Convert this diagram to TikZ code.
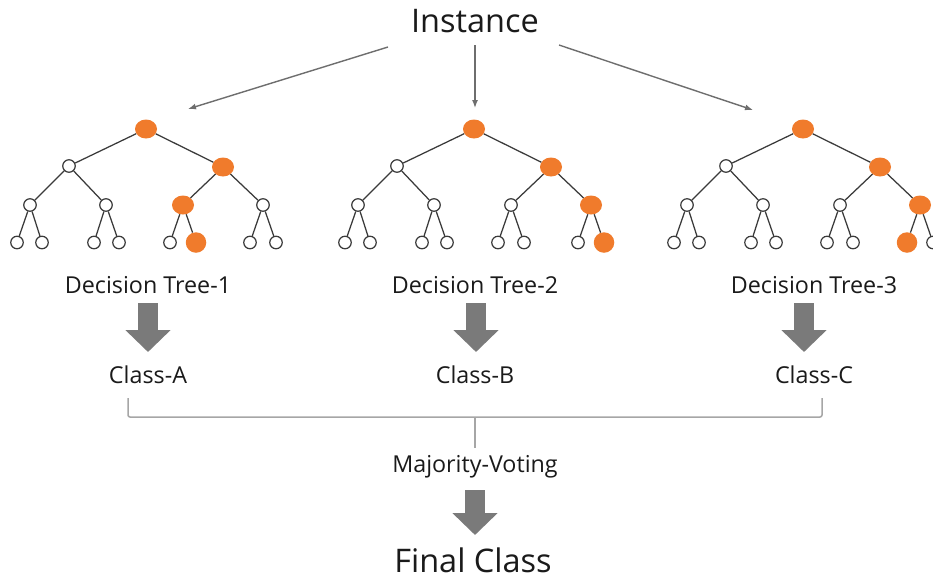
\documentclass[tikz,border=0pt]{standalone}
\usepackage{fontspec}
\setmainfont{Open Sans}
\usetikzlibrary{shapes.geometric,arrows.meta}
\definecolor{orng}{HTML}{F07B2C}
\definecolor{edgec}{HTML}{3A3A3A}
\definecolor{blk}{HTML}{7A7A7A}
\definecolor{thin}{HTML}{6E6E6E}
\definecolor{brk}{HTML}{A6A6A6}
\definecolor{txt}{HTML}{1A1A1A}
\tikzset{
  wn/.style={circle, draw=edgec, line width=1.2pt, fill=white, minimum size=12.5pt, inner sep=0pt},
  on/.style={ellipse, fill=orng, minimum width=22pt, minimum height=19pt, inner sep=0pt},
  onleaf/.style={circle, fill=orng, minimum size=20.5pt, inner sep=0pt},
  treeedge/.style={draw=edgec, line width=1.25pt},
  lbl/.style={text=txt, anchor=base, inner sep=0pt, font=\fontsize{23.3}{27}\selectfont},
  biglbl/.style={text=txt, anchor=base, inner sep=0pt, font=\fontsize{32.5}{38}\selectfont},
  blockarrow/.style={draw=blk, line width=20pt, -{Triangle[length=22pt,width=44pt]}},
  thinarrow/.style={draw=thin, line width=1.4pt, -{Latex[length=8pt,width=6pt]}},
  bracket/.style={draw=brk, line width=1.5pt, rounded corners=2pt},
}
\newcommand\mytree[4]{%
  \node[on] (#1a) at (#2,129) {};
  \node[wn] (#1b1) at ({#2-77},166) {};
  \node[on] (#1b2) at ({#2+77},167) {};
  \draw[treeedge] (#1a) -- (#1b1);
  \draw[treeedge] (#1a) -- (#1b2);
  \foreach \i/\dx/\p in {1/-116/1,2/-40/1,3/37/2,4/117/2} {
    \ifnum\i=#3 \tikzset{cur/.style={on}}\else\tikzset{cur/.style={wn}}\fi
    \node[cur] (#1c\i) at ({#2+\dx},205) {};
    \draw[treeedge] (#1b\p) -- (#1c\i);
  }
  \foreach \j/\dx/\p in {1/-129/1,2/-104/1,3/-52/2,4/-27/2,5/24/3,6/50/3,7/104/4,8/130/4} {
    \ifnum\j=#4 \tikzset{cur/.style={onleaf}}\else\tikzset{cur/.style={wn}}\fi
    \node[cur] (#1d\j) at ({#2+\dx},242.5) {};
    \draw[treeedge] (#1c\p) -- (#1d\j);
  }
}
\begin{document}
\begin{tikzpicture}[x=1pt,y=-1pt]
\useasboundingbox[fill=white] (0,0) rectangle (933,579);

% top
\node[biglbl] (inst) at (475,32) {Instance};
\coordinate (s1) at (388,47);
\coordinate (s2) at (475,45);
\coordinate (s3) at (559,45);
\coordinate (e1) at (188,109);
\coordinate (e2) at (475,108);
\coordinate (e3) at (753,110);
\draw[thinarrow] (s1) -- (e1);
\draw[thinarrow] (s2) -- (e2);
\draw[thinarrow] (s3) -- (e3);

% trees
\mytree{p}{146}{3}{6}
\mytree{q}{474}{4}{8}
\mytree{r}{803}{4}{7}

% labels
\node[lbl] (dt1) at (148,293) {Decision Tree-1};
\node[lbl] (dt2) at (475,293) {Decision Tree-2};
\node[lbl] (dt3) at (814,293) {Decision Tree-3};

\coordinate (a1s) at (148,303);
\coordinate (a1e) at (148,352);
\coordinate (a2s) at (476,303);
\coordinate (a2e) at (476,352);
\coordinate (a3s) at (804,303);
\coordinate (a3e) at (804,352);
\draw[blockarrow] (a1s) -- (a1e);
\draw[blockarrow] (a2s) -- (a2e);
\draw[blockarrow] (a3s) -- (a3e);

\node[lbl] (ca) at (148,383) {Class-A};
\node[lbl] (cb) at (475,383) {Class-B};
\node[lbl] (cc) at (814,383) {Class-C};

% bracket
\coordinate (bl) at (128,398);
\coordinate (br) at (822,398);
\coordinate (bm) at (475,417);
\coordinate (bd) at (475,448);
\draw[bracket] (bl) -- (128,417) -- (822,417) -- (br);
\draw[bracket] (bm) -- (bd);

\node[lbl] (mv) at (475,472) {Majority-Voting};
\coordinate (a4s) at (475,490);
\coordinate (a4e) at (475,535);
\draw[blockarrow] (a4s) -- (a4e);

\node[biglbl] (fc) at (473,572) {Final Class};
\end{tikzpicture}
\end{document}
